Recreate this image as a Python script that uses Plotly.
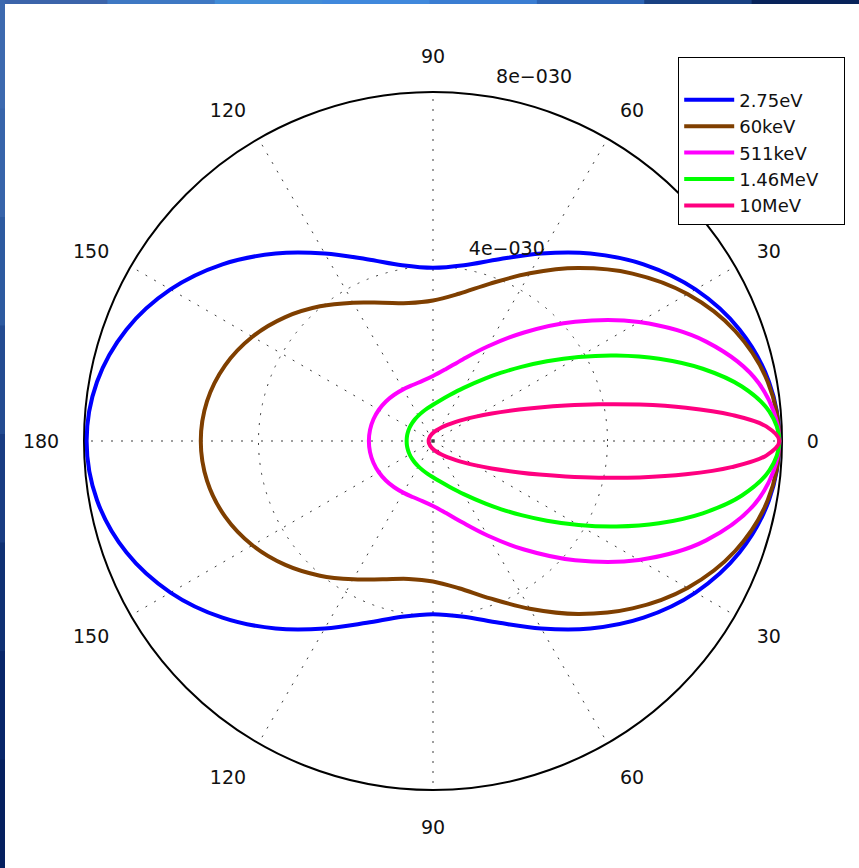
import plotly.graph_objects as go

# ---------------- data (units of 1e-30 m^2/sr) ----------------
theta_a = [0, 10, 20, 30, 40, 50, 60, 70, 80, 90, 100, 110, 120, 130, 140, 150, 160, 170, 180]
r_2_75eV = [7.940, 7.820, 7.476, 6.948, 6.300, 5.610, 4.963, 4.434, 4.090, 3.970,
            4.090, 4.434, 4.963, 5.610, 6.300, 6.948, 7.476, 7.820, 7.940]
r_60keV = [7.940, 7.793, 7.371, 6.735, 5.970, 5.174, 4.439, 3.840, 3.427, 3.219,
           3.210, 3.373, 3.661, 4.030, 4.419, 4.780, 5.071, 5.259, 5.323]
r_511keV = [7.940, 7.589, 6.662, 5.452, 4.253, 3.248, 2.500, 1.990, 1.671, 1.489,
            1.398, 1.365, 1.366, 1.384, 1.409, 1.433, 1.453, 1.466, 1.470]

theta_b = [0, 5, 10, 15, 20, 25, 30, 35, 40, 45, 50, 60, 70, 80, 90, 100, 110, 120,
           130, 140, 150, 160, 170, 180]
r_1_46MeV = [7.940, 7.741, 7.190, 6.401, 5.513, 4.639, 3.854, 3.188, 2.645, 2.214, 1.875,
             1.407, 1.122, 0.945, 0.832, 0.757, 0.706, 0.671, 0.647, 0.630, 0.618, 0.610,
             0.606, 0.604]

theta_c = [0, 2.5, 5, 7.5, 10, 12.5, 15, 17.5, 20, 25, 30, 35, 40, 45, 50, 60, 70, 80, 90,
           100, 110, 120, 130, 140, 150, 160, 170, 180]
r_10MeV = [7.940, 7.646, 6.869, 5.846, 4.808, 3.891, 3.143, 2.558, 2.106, 1.487, 1.104,
           0.854, 0.682, 0.559, 0.468, 0.346, 0.269, 0.219, 0.184, 0.159, 0.141, 0.128,
           0.118, 0.110, 0.105, 0.102, 0.100, 0.099]

series_names = ["2.75eV", "60keV", "511keV", "1.46MeV", "10MeV"]
series_colors = ["#0000ff", "#7f3f00", "#ff00ff", "#00ff00", "#ff0080"]
unit = 1e-30

angle_tickvals = [0, 30, 60, 90, 120, 150, 180, 210, 240, 270, 300, 330]
angle_ticktext = ["0", "30", "60", "90", "120", "150", "180", "150", "120", "90", "60", "30"]
radial_tickvals = [4e-30, 8e-30]
radial_ticktext = ["4e\u2212030", "8e\u2212030"]
radial_label_angle = 81

# ---------------- figure ----------------
W, H = 859, 868
ML, MR, MT, MB = 84, 77, 92, 78
PW, PH = W - ML - MR, H - MT - MB


def mirror(theta, r):
    th = list(theta) + [360 - t for t in reversed(theta[:-1])]
    rr = list(r) + list(reversed(r[:-1]))
    return th, [v * unit for v in rr]


font_main = dict(family="DejaVu Sans", size=19, color="#111111")
font_legend = dict(family="DejaVu Sans", size=18, color="#111111")
grid_col = "rgb(60,60,60)"

fig = go.Figure()
for name, color, (th, rr) in zip(
        series_names, series_colors,
        [(theta_a, r_2_75eV), (theta_a, r_60keV), (theta_a, r_511keV),
         (theta_b, r_1_46MeV), (theta_c, r_10MeV)]):
    t, r = mirror(th, rr)
    fig.add_trace(go.Scatterpolar(r=r, theta=t, mode="lines", name=name,
                                  line=dict(color=color, width=4, shape="spline",
                                            smoothing=1.0)))

# radial tick labels (placed at the tick values along the label angle)
fig.add_trace(go.Scatterpolar(r=radial_tickvals,
                              theta=[radial_label_angle] * len(radial_tickvals),
                              mode="text+markers", text=radial_ticktext,
                              marker=dict(size=12, color="rgba(0,0,0,0)"),
                              textposition="top right", textfont=font_main,
                              showlegend=False, hoverinfo="skip", cliponaxis=False))


def px_x(px):
    return (px - ML) / PW


def px_y(py):
    return (H - MB - py) / PH


# decorative blue frame strips (top and left), as in the screenshot
shapes = []
top_cols = [(60, 100, 170), (62, 120, 195), (66, 140, 215), (64, 136, 220),
            (58, 125, 210), (45, 100, 180), (25, 65, 130), (8, 35, 90)]
n = len(top_cols)
for i, c in enumerate(top_cols):
    shapes.append(dict(type="rect", xref="paper", yref="paper", layer="above",
                       x0=px_x(W * i / n), x1=px_x(W * (i + 1) / n + 1),
                       y0=px_y(4), y1=px_y(0), line=dict(width=0),
                       fillcolor="rgb(%d,%d,%d)" % c))
left_cols = [(60, 105, 175), (55, 100, 170), (45, 90, 160), (35, 75, 145),
             (25, 60, 130), (15, 48, 115), (8, 38, 105), (5, 32, 95)]
n = len(left_cols)
for i, c in enumerate(left_cols):
    shapes.append(dict(type="rect", xref="paper", yref="paper", layer="above",
                       x0=px_x(0), x1=px_x(5),
                       y0=px_y(H * (i + 1) / n + 1), y1=px_y(H * i / n),
                       line=dict(width=0), fillcolor="rgb(%d,%d,%d)" % c))

fig.update_layout(
    width=W, height=H,
    margin=dict(l=ML, r=MR, t=MT, b=MB, pad=0),
    paper_bgcolor="white",
    showlegend=True,
    shapes=shapes,
    polar=dict(
        domain=dict(x=[0, 1], y=[0, 1]),
        bgcolor="white",
        angularaxis=dict(
            direction="counterclockwise", rotation=0,
            tickmode="array", tickvals=angle_tickvals, ticktext=angle_ticktext,
            showline=True, linecolor="black", linewidth=2,
            showgrid=True, gridcolor=grid_col, gridwidth=1.4, griddash="2px,8px",
            ticks="outside", ticklen=20, tickcolor="rgba(0,0,0,0)",
            tickfont=font_main, layer="below traces",
        ),
        radialaxis=dict(
            range=[0, 8e-30], angle=radial_label_angle,
            tickmode="array", tickvals=radial_tickvals, ticktext=radial_ticktext,
            showline=False, ticks="", showticklabels=False,
            showgrid=True, gridcolor=grid_col, gridwidth=1.4, griddash="2px,8px",
            layer="below traces",
        ),
    ),
    legend=dict(
        x=px_x(678), y=px_y(57), xanchor="left", yanchor="top",
        bgcolor="white", bordercolor="black", borderwidth=1.2,
        font=font_legend, itemwidth=50,
        title=dict(text="\u00a0" * 28, font=font_legend),
    ),
)

fig.write_html("out.html",
               config={"displayModeBar": False},
               post_script="document.body.style.margin='0';"
                           "document.body.style.overflow='hidden';")
